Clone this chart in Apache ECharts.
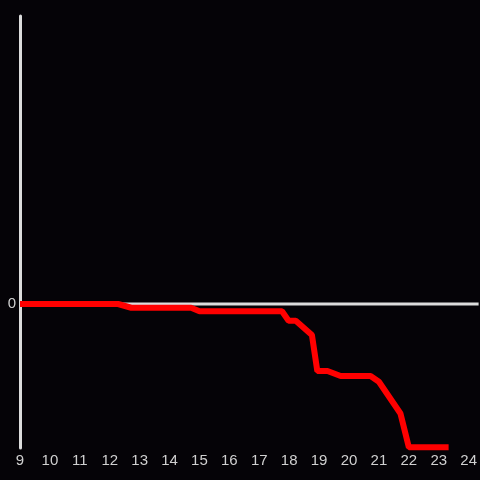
<!DOCTYPE html>
<html>
<head>
<meta charset="utf-8">
<script src="https://cdn.jsdelivr.net/npm/echarts@6/dist/echarts.min.js"></script>
<style>
  html, body { margin: 0; padding: 0; background: #050307; }
  #chart { width: 480px; height: 480px; }
</style>
</head>
<body>
<div id="chart"></div>
<script>
// hour of day
const hours = [9, 12.28, 12.72, 14.72, 15.0, 17.76, 17.98, 18.22, 18.76, 18.94, 19.28, 19.72, 20.72, 21.0, 21.72, 22.0, 23.33];
const values = [0, 0, -2.6, -2.6, -5, -5, -11.6, -11.6, -21.5, -46.5, -46.5, -50, -50, -54, -76, -99.5, -99.5];
const xMin = 9;
const xMax = 24.333;

let chart = echarts.init(document.getElementById('chart'));
chart.setOption({
  backgroundColor: '#050307',
  animation: false,
  textStyle: { fontFamily: 'Liberation Sans' },
  grid: {
    left: 20,
    right: 0,
    top: 16,
    bottom: 32
  },
  xAxis: {
    type: 'value',
    min: xMin,
    max: xMax,
    interval: 1,
    axisLine: { show: false },
    axisTick: { show: false },
    splitLine: { show: false },
    axisLabel: {
      color: '#d0d0d0',
      fontFamily: 'Liberation Sans',
      fontSize: 15,
      margin: 5,
      showMaxLabel: false,
      formatter: function (v) {
        return Number.isInteger(v) ? String(v) : '';
      }
    }
  },
  yAxis: {
    type: 'value',
    min: -100,
    max: 200,
    interval: 100,
    axisLine: { show: true, lineStyle: { color: '#dcdcdc', width: 3 } },
    axisTick: { show: false },
    splitLine: { show: false },
    axisLabel: {
      color: '#d0d0d0',
      fontFamily: 'Liberation Sans',
      fontSize: 15,
      margin: 4,
      formatter: function (v) {
        return v === 0 ? '0' : '';
      }
    }
  },
  series: [
    {
      // zero line
      type: 'line',
      z: 1,
      silent: true,
      symbol: 'none',
      data: [[xMin, 0], [xMax, 0]],
      lineStyle: { color: '#dcdcdc', width: 3 }
    },
    {
      type: 'line',
      z: 2,
      symbol: 'none',
      data: hours.map((h, i) => [h, values[i]]),
      lineStyle: { color: '#ff0000', width: 6 }
    }
  ]
});
</script>
</body>
</html>
